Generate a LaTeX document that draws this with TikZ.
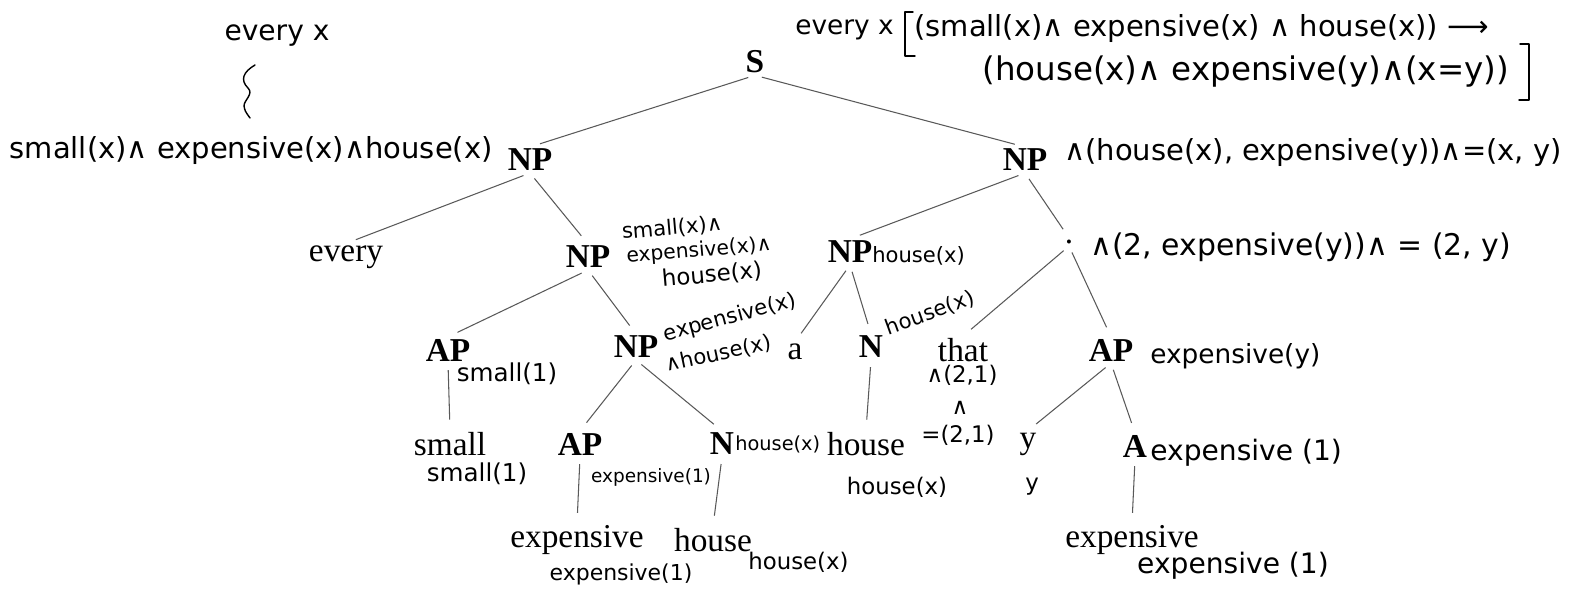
\documentclass[tikz,border=0pt]{standalone}
\usepackage{fontspec}
\setmainfont{Liberation Serif}
\newfontfamily\hand{DejaVu Sans}
\usetikzlibrary{positioning}
\newcommand\hsz[1]{\hand\fontsize{#1}{#1}\selectfont}
\tikzset{cat/.style={font=\bfseries\fontsize{19}{19}\selectfont,inner sep=1pt},
  word/.style={font=\fontsize{19}{19}\selectfont,inner sep=1pt},
  hw/.style={font=\hsz{17},inner sep=0pt},
  hws/.style={font=\hsz{12},inner sep=0pt},
  branch/.style={black!65,line width=0.6pt,shorten <=4pt,shorten >=6pt},
  pen/.style={line width=0.8pt,line cap=round,line join=round}}

\begin{document}
\begin{tikzpicture}[x=0.02cm,y=-0.02cm]
\useasboundingbox (0,0) rectangle (1569,593);
% tree
\node[cat] (S) at (755,62) {S};
\node[cat] (NPa) at (530,160) {NP};
\node[cat] (NPb) at (1025,160) {NP};
\node[word] (every) at (346,257) {every};
\node[cat] (NPc) at (588,257) {NP};
\node[cat] (NPd) at (850,252) {NP};
\node[word] (dot) at (1069,242) {.};
\node[cat] (APa) at (448,350) {AP};
\node[cat] (NPe) at (636,347) {NP};
\node[word] (a) at (795,352) {a};
\node[cat] (N1) at (871,347) {N};
\node[word] (that) at (963,350) {that};
\node[cat] (APb) at (1111,350) {AP};
\node[word] (small) at (450,444) {small};
\node[cat] (APc) at (580,444) {AP};
\node[cat] (N2) at (722,444) {N};
\node[word] (house1) at (866,444) {house};
\node[word] (y) at (1028,444) {y};
\node[cat] (A) at (1135,446) {A};
\node[word] (exp1) at (577,540) {expensive};
\node[word] (house2) at (713,540) {house};
\node[word] (exp2) at (1132,540) {expensive};

\foreach \p/\c in {S/NPa,S/NPb,NPa/every,NPa/NPc,NPb/NPd,NPb/dot,NPc/APa,NPc/NPe,
  NPd/a,NPd/N1,dot/that,dot/APb,APa/small,NPe/APc,NPe/N2,N1/house1,APb/y,APb/A,
  APc/exp1,N2/house2,A/exp2}
  \draw[branch] (\p.south) -- (\c.north);

% handwritten meanings
\node[hw,font=\hsz{16}] (qleft) at (277,36) {every x};
\draw[pen] (255,65) .. controls (243,72) and (240,80) .. (248,88)
  .. controls (254,94) and (244,100) .. (244,106) .. controls (245,111) .. (250,118);
\node[hw,font=\hsz{16.5},anchor=east] (restr) at (493,150) {small(x)∧ expensive(x)∧house(x)};
\node[hw,font=\hsz{15},anchor=west] (qright) at (795,30) {every x};
\draw[pen] (913,12) -- (905,12) -- (905,56) -- (915,56);
\node[hw,font=\hsz{16.5},anchor=west] (line1) at (914,28) {(small(x)∧ expensive(x) ∧ house(x)) ⟶};
\node[hw,font=\hsz{18.5},anchor=west] (line2) at (982,72) {(house(x)∧ expensive(y)∧(x=y))};
\draw[pen] (1520,44) -- (1529,44) -- (1529,100) -- (1519,100);
\node[hw,font=\hsz{16.5},anchor=east] (mNPb) at (1562,152) {∧(house(x), expensive(y))∧=(x, y)};
\node[hws,rotate=5] (mNPc1) at (672,228) {small(x)∧};
\node[hws,font=\hsz{11.5},rotate=5] (mNPc2) at (699,251) {expensive(x)∧};
\node[hws,font=\hsz{13},rotate=5] (mNPc3) at (712,275) {house(x)};
\node[hws,anchor=west] (mNPd) at (872,256) {house(x)};
\node[hw,anchor=west] (mdot) at (1090,247) {∧(2, expensive(y))∧ = (2, y)};
\node[hws,font=\hsz{14}] (mAPa) at (507,374) {small(1)};
\node[hws,rotate=15] (mNPe1) at (730,318) {expensive(x)};
\node[hws,rotate=12] (mNPe2) at (718,354) {∧house(x)};
\node[hws,rotate=20] (mN1) at (930,313) {house(x)};
\node[hws,font=\hsz{13}] (mthat1) at (962,375) {∧(2,1)};
\node[hws,font=\hsz{13}] (mthat2) at (960,408) {∧};
\node[hws,font=\hsz{13}] (mthat3) at (958,435) {=(2,1)};
\node[hws,font=\hsz{15},anchor=west] (mAPb) at (1150,356) {expensive(y)};
\node[hws,font=\hsz{14}] (msmall) at (477,474) {small(1)};
\node[hws,font=\hsz{10.5}] (mAPc) at (651,477) {expensive(1)};
\node[hws,font=\hsz{11},anchor=west] (mN2) at (735,444) {house(x)};
\node[hws,font=\hsz{13}] (mhouse1) at (897,487) {house(x)};
\node[hws,font=\hsz{13}] (my) at (1032,487) {y};
\node[hws,font=\hsz{16},anchor=west] (mA) at (1150,453) {expensive (1)};
\node[hws,font=\hsz{12.5}] (mexp1) at (621,574) {expensive(1)};
\node[hws,font=\hsz{13},anchor=west] (mhouse2) at (748,562) {house(x)};
\node[hws,font=\hsz{16}] (mexp2) at (1233,566) {expensive (1)};
\end{tikzpicture}
\end{document}
